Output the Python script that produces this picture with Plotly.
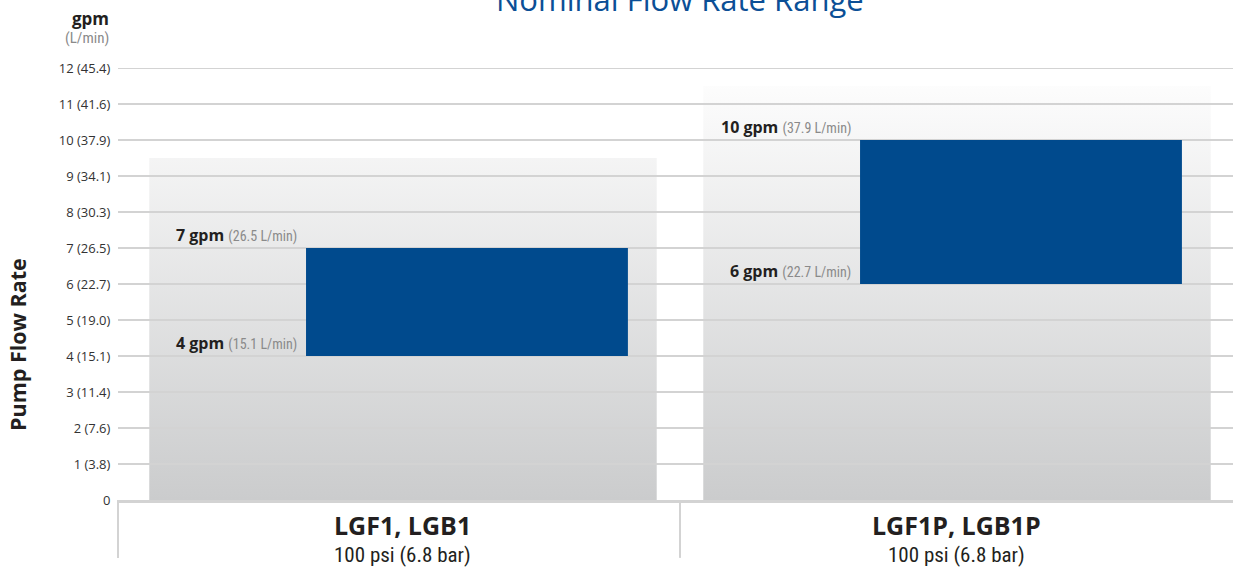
import plotly.graph_objects as go

# ---- data ----
categories = ["LGF1, LGB1", "LGF1P, LGB1P"]
pressures = ["100 psi (6.8 bar)", "100 psi (6.8 bar)"]
low_gpm = [4, 6]
high_gpm = [7, 10]
low_lpm = [15.1, 22.7]
high_lpm = [26.5, 37.9]
panel_top = [9.5, 11.5]
tick_vals = [0, 1, 2, 3, 4, 5, 6, 7, 8, 9, 10, 11, 12]
tick_text = ["0", "1 (3.8)", "2 (7.6)", "3 (11.4)", "4 (15.1)", "5 (19.0)", "6 (22.7)",
             "7 (26.5)", "8 (30.3)", "9 (34.1)", "10 (37.9)", "11 (41.6)", "12 (45.4)"]

# ---- style ----
BLUE = "#004a8d"
GRID = "#d3d3d3"
DARK = "#231f20"
GRAY = "#8a8a8a"
COND = "Roboto Condensed, Liberation Sans Narrow, DejaVu Sans Condensed, Roboto, sans-serif"
MAIN = "Open Sans, Noto Sans, sans-serif"

XMIN, XMAX = -0.5144, 1.4982
PANEL_HALF = 0.458
BAR_OFFSET = -0.175
BAR_WIDTH = 0.581

fig = go.Figure()

# gradient background panels
for i, top in enumerate(panel_top):
    fig.add_trace(go.Scatter(
        x=[i - PANEL_HALF, i + PANEL_HALF, i + PANEL_HALF, i - PANEL_HALF, i - PANEL_HALF],
        y=[0, 0, top, top, 0],
        mode="lines", line=dict(width=0), fill="toself",
        fillgradient=dict(type="vertical", start=0, stop=11.6,
                          colorscale=[[0, "#cbcccd"], [1, "#fdfdfd"]]),
        hoverinfo="skip", showlegend=False))

# gridlines (over panels, under bars)
gx, gy = [], []
for v in tick_vals[1:]:
    gx += [XMIN, XMAX, None]
    gy += [v, v, None]
fig.add_trace(go.Scatter(x=gx, y=gy, mode="lines", line=dict(color=GRID, width=1.8),
                         hoverinfo="skip", showlegend=False))

# floating range bars (on an overlaid axis pair so they sit above panels and gridlines)
fig.add_trace(go.Bar(
    x=list(range(len(categories))),
    y=[h - l for h, l in zip(high_gpm, low_gpm)],
    base=low_gpm, width=BAR_WIDTH, offset=BAR_OFFSET,
    marker=dict(color=BLUE, line=dict(width=0)),
    xaxis="x2", yaxis="y2",
    hoverinfo="skip", showlegend=False))

annotations = []
for i in range(len(categories)):
    for g, l in ((high_gpm[i], high_lpm[i]), (low_gpm[i], low_lpm[i])):
        annotations.append(dict(
            x=i + BAR_OFFSET, y=g, xref="x", yref="y",
            xanchor="right", yanchor="bottom", xshift=-7, yshift=0, showarrow=False,
            text=f"<b>{g} gpm</b> <span style='font-family:{COND};font-size:14px;color:{GRAY}'>({l} L/min)</span>",
            font=dict(family=MAIN, size=16, color=DARK)))
    annotations.append(dict(
        x=i, y=-0.058, xref="x", yref="paper", xanchor="center", yanchor="middle",
        showarrow=False, text=f"<b>{categories[i]}</b>",
        font=dict(family=MAIN, size=25, color=DARK)))
    annotations.append(dict(
        x=i, y=-0.127, xref="x", yref="paper", xanchor="center", yanchor="middle",
        showarrow=False, text=pressures[i],
        font=dict(family=COND, size=21, color=DARK)))

annotations += [
    dict(x=0.5, y=(500 - 22.5) / 432, xref="x", yref="paper", xanchor="center", yanchor="bottom",
         showarrow=False, text="Nominal Flow Rate Range",
         font=dict(family=MAIN, size=31, color="#0b4f96")),
    dict(x=0, y=(500 - 18) / 432, xref="paper", yref="paper", xanchor="right", yanchor="middle",
         xshift=-7, showarrow=False, text="<b>gpm</b>",
         font=dict(family=MAIN, size=17, color=DARK)),
    dict(x=0, y=(500 - 38) / 432, xref="paper", yref="paper", xanchor="right", yanchor="middle",
         xshift=-7, showarrow=False, text="(L/min)",
         font=dict(family=COND, size=15, color=GRAY)),
    dict(x=(17 - 118) / 1115, y=(500 - 345) / 432, xref="paper", yref="paper",
         xanchor="center", yanchor="middle", textangle=-90, showarrow=False,
         text="<b>Pump Flow Rate</b>", font=dict(family=MAIN, size=21.5, color=DARK)),
]

# divider lines below the axis
div_paper = [(XMIN - XMIN) / (XMAX - XMIN), (0.5 - XMIN) / (XMAX - XMIN)]
shapes = [dict(type="line", xref="paper", yref="paper", x0=p, x1=p, y0=0, y1=-0.134,
               line=dict(color=GRID, width=2)) for p in div_paper]

fig.update_layout(
    width=1233, height=585,
    margin=dict(l=118, r=0, t=68, b=85),
    paper_bgcolor="white", plot_bgcolor="white",
    showlegend=False, hovermode=False,
    annotations=annotations, shapes=shapes,
    xaxis=dict(range=[XMIN, XMAX], showgrid=False, zeroline=False, showticklabels=False,
               showline=True, linecolor=GRID, linewidth=2.5, fixedrange=True),
    yaxis=dict(range=[0, 12], tickvals=tick_vals, ticktext=tick_text, showgrid=False,
               zeroline=False, showline=False, ticks="outside", ticklen=4,
               tickcolor="rgba(0,0,0,0)", tickfont=dict(family=MAIN, size=13, color="#333333"),
               fixedrange=True),
    xaxis2=dict(range=[XMIN, XMAX], overlaying="x", visible=False, fixedrange=True),
    yaxis2=dict(range=[0, 12], overlaying="y", visible=False, fixedrange=True),
)

fig.write_html("out.html", config={"displayModeBar": False},
               post_script="document.body.style.margin='0';document.body.style.overflow='hidden';")
